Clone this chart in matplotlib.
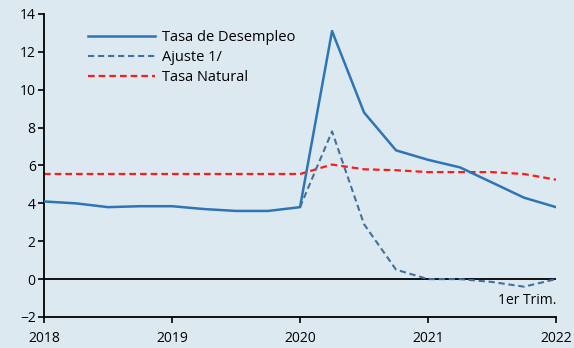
import numpy as np
import matplotlib
matplotlib.use('Agg')
from matplotlib import pyplot as plt

# quarterly series, 2018 Q1 .. 2022 Q1
quarters = np.arange(17) / 4 + 2018
desempleo = [4.1, 4.0, 3.8, 3.85, 3.85, 3.7, 3.6, 3.6, 3.8,
             13.1, 8.8, 6.8, 6.3, 5.9, 5.1, 4.3, 3.8]
ajuste_q = quarters[8:]
ajuste = [3.8, 7.8, 2.9, 0.5, 0.0, 0.0, -0.15, -0.4, 0.0]
natural = [5.55, 5.55, 5.55, 5.55, 5.55, 5.55, 5.55, 5.55, 5.55,
           6.05, 5.8, 5.75, 5.65, 5.65, 5.65, 5.55, 5.25]

year_ticks = [2018, 2019, 2020, 2021, 2022]
y_ticks = list(range(-2, 15, 2))

bg = '#dce9f0'
plt.rcParams['font.family'] = ['Open Sans', 'DejaVu Sans']

fig = plt.figure(figsize=(5.74, 3.48), dpi=100, facecolor=bg)
ax = fig.add_axes([0.0767, 0.0891, 0.892, 0.8707], facecolor=bg)

ax.axhline(0, color='black', lw=1.3, zorder=1)
ax.plot(quarters, desempleo, color='#2e75b6', lw=1.8, label='Tasa de Desempleo', zorder=3)
ax.plot(ajuste_q, ajuste, color='#41719c', lw=1.5, ls=(0, (3, 1.8)), label='Ajuste 1/', zorder=3)
ax.plot(quarters, natural, color='#ff1a1a', lw=1.6, ls=(0, (3, 1.8)), label='Tasa Natural', zorder=2)

ax.set_xlim(2018, 2022)
ax.set_ylim(-2, 14)
ax.set_xticks(year_ticks)
ax.set_xticklabels([str(y) for y in year_ticks])
ax.set_yticks(y_ticks)

for side in ['top', 'right']:
    ax.spines[side].set_visible(False)
for side in ['left', 'bottom']:
    ax.spines[side].set_linewidth(1.3)
ax.tick_params(axis='both', labelsize=10, length=4, width=1.2, colors='black', pad=2)
ax.tick_params(axis='x', pad=6)

ax.text(2022, -1.15, '1er Trim.', ha='right', va='center', fontsize=10)

ax.legend(loc='upper left', bbox_to_anchor=(0.06, 0.99), frameon=False,
          fontsize=10.5, handlelength=4.6, handletextpad=0.45, labelspacing=0.33)

fig.savefig('out.png', dpi=100, facecolor=bg)
